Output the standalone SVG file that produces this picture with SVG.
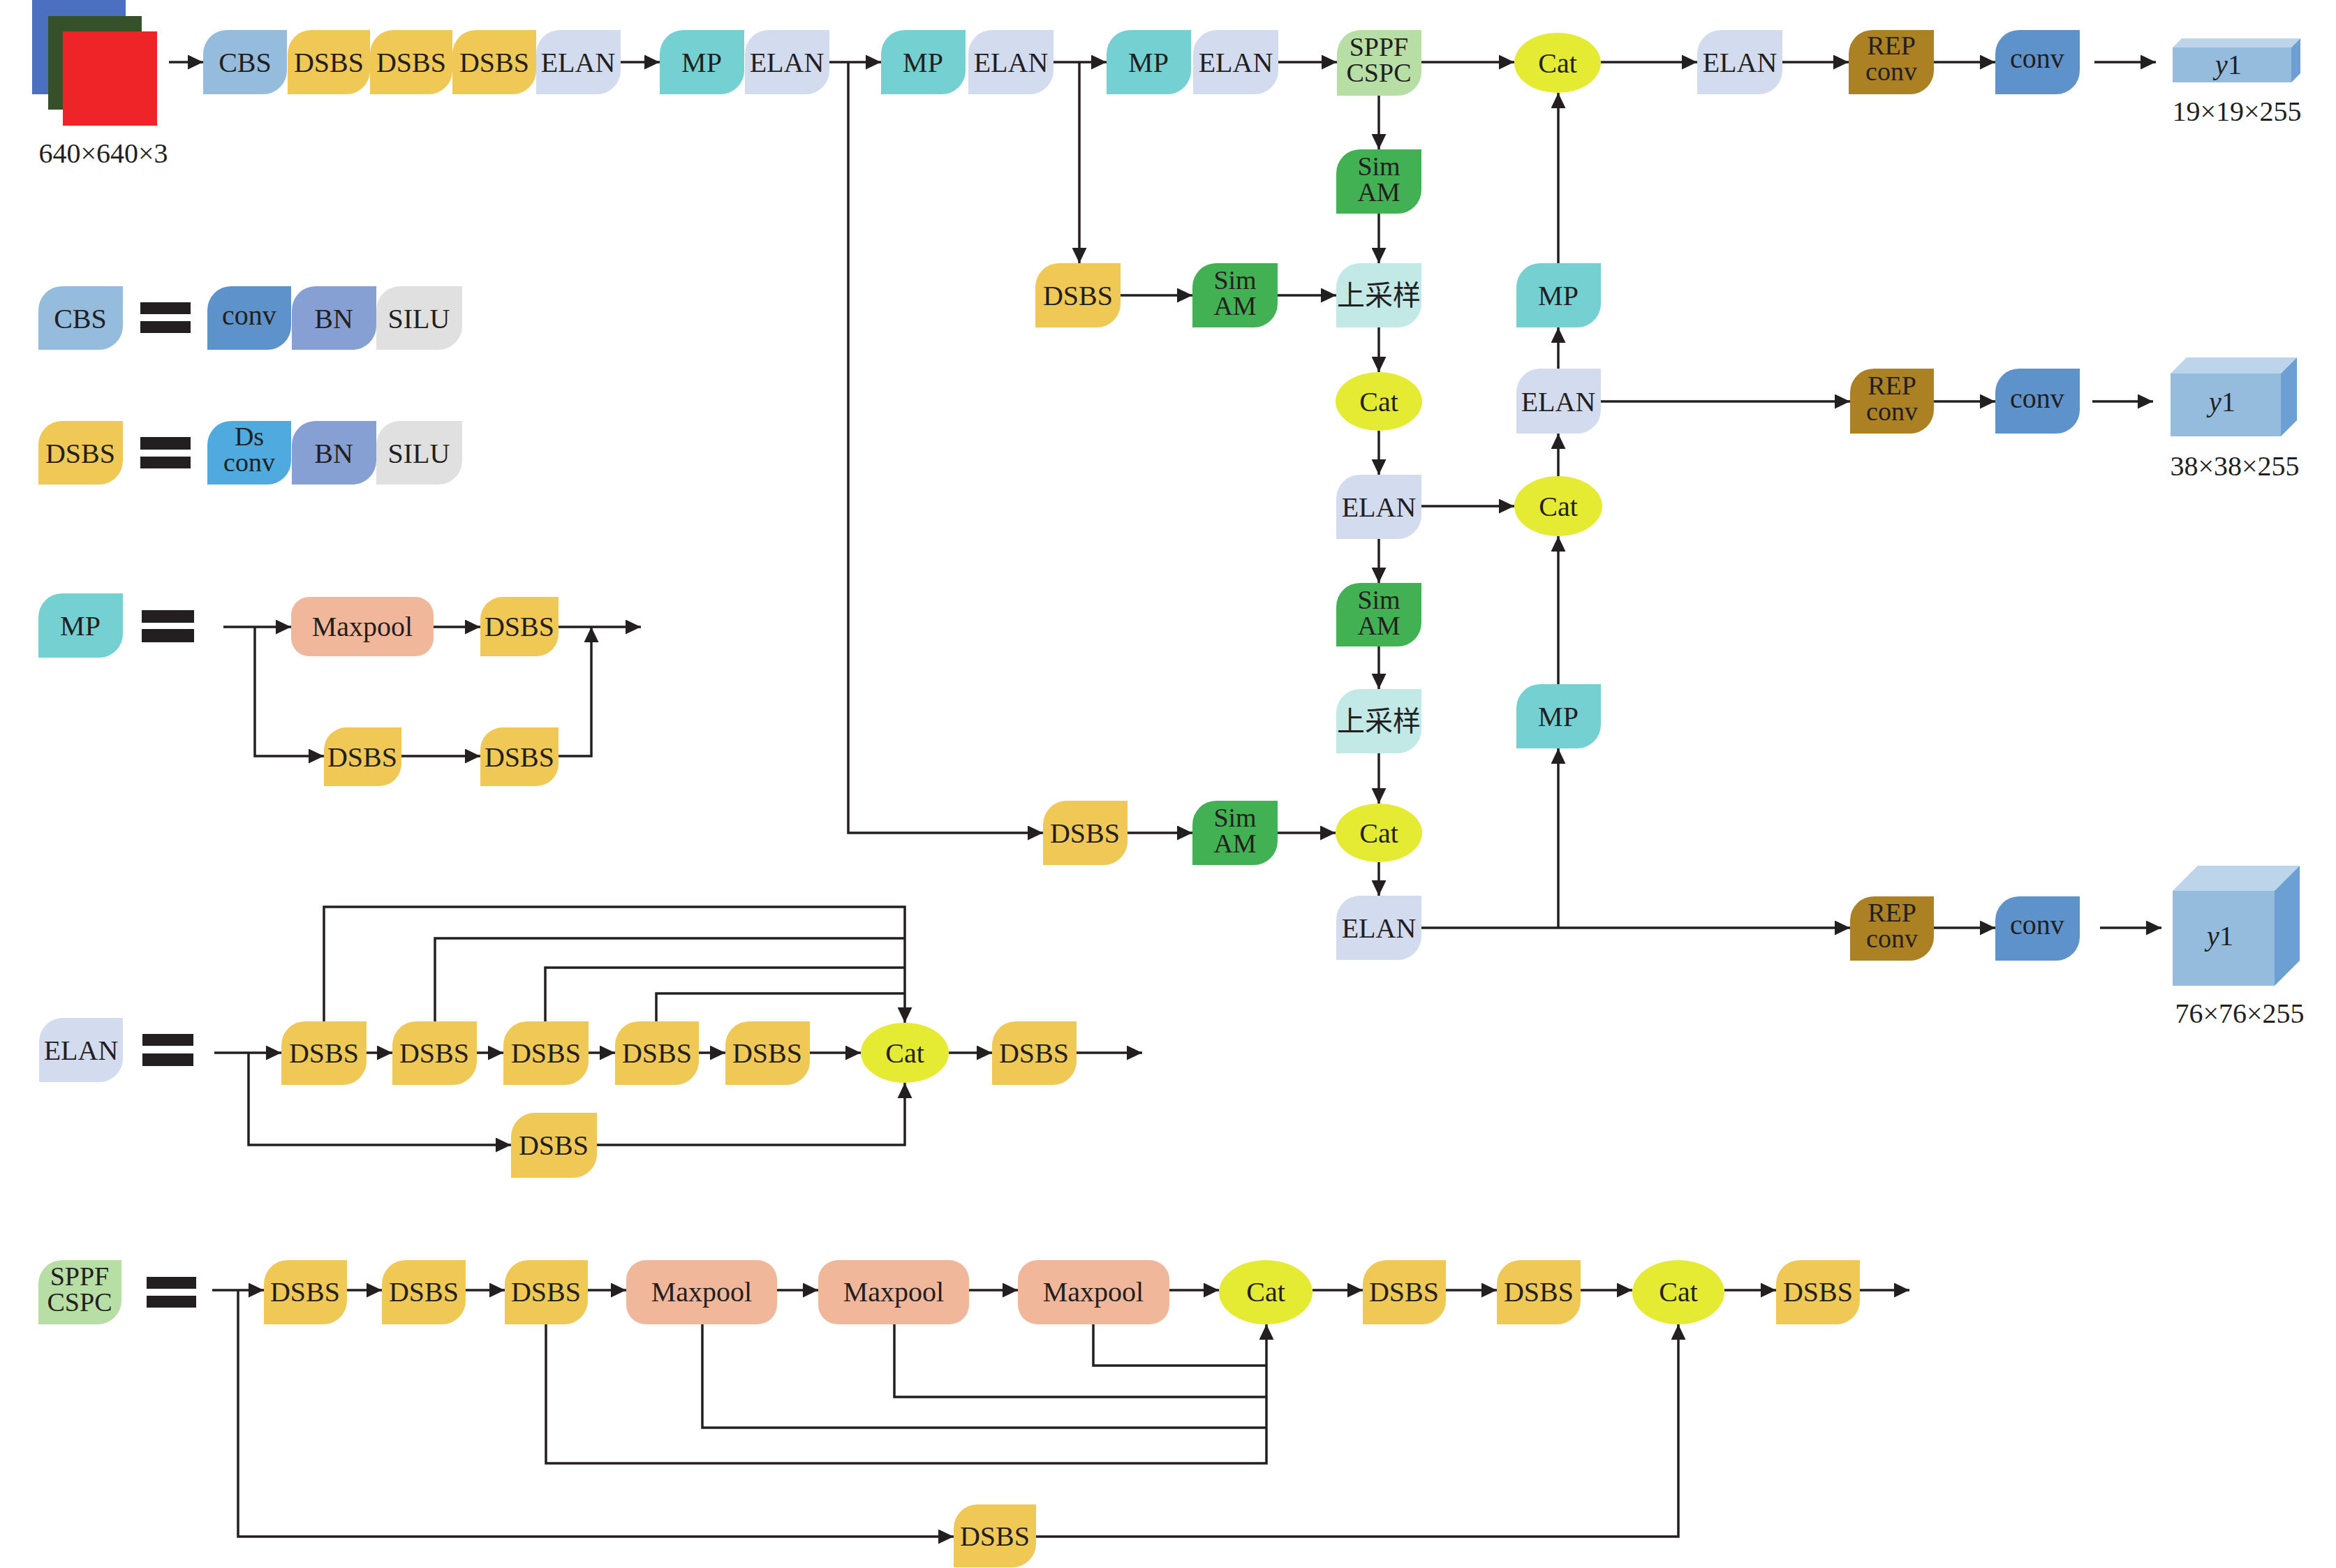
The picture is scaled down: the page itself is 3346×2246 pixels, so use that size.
<svg xmlns="http://www.w3.org/2000/svg" width="3346" height="2246" viewBox="0 0 3346 2246">
<style>
.t{font-family:"Liberation Serif","Times New Roman",serif;font-size:40px;fill:#231F20;text-anchor:middle}
.t2{font-family:"Liberation Serif","Times New Roman",serif;font-size:38px;fill:#231F20;text-anchor:middle}
.cjk{font-family:"Liberation Serif","Noto Sans CJK SC",sans-serif;font-size:40px;fill:#231F20;text-anchor:middle}
.c{fill:none;stroke:#231F20;stroke-width:3.5}
.ca{fill:none;stroke:#231F20;stroke-width:3.5;marker-end:url(#ah)}
.cbs{fill:#95BBDD}.dsbs{fill:#F0C856}.elan{fill:#D3DBEE}.mp{fill:#74D0D1}.sppf{fill:#B7DEA5}
.cat{fill:#E5EB33}.sim{fill:#41B153}.up{fill:#C3E9E7}.rep{fill:#AB8124}.conv{fill:#5E92CA}
.bn{fill:#86A0D4}.silu{fill:#E0E0E0}.ds{fill:#4EAADF}.maxp{fill:#F0B79B}.bar{fill:#231F20}
.cf{fill:#95BBDD}.ct{fill:#BDD5EA}.cr{fill:#6C9FD2}
</style>
<defs>
<marker id="ah" viewBox="0 0 22 21" refX="22" refY="10.5" markerWidth="22" markerHeight="21" markerUnits="userSpaceOnUse" orient="auto"><path d="M0,0 L22,10.5 L0,21 Z" fill="#231F20"/></marker>
</defs>
<rect width="3346" height="2246" fill="#FFFFFF"/>

<g id="connectors">
<path class="ca" d="M242,89 H291"/>
<path class="ca" d="M889,89 H945"/>
<path class="ca" d="M1188,89 H1262"/>
<path class="ca" d="M1509,89 H1585"/>
<path class="ca" d="M1831,89 H1915"/>
<path class="ca" d="M2036,89 H2169"/>
<path class="ca" d="M2293,89 H2431"/>
<path class="ca" d="M2553,89 H2648"/>
<path class="ca" d="M2770,89 H2858"/>
<path class="ca" d="M3000,89 H3088"/>
<path class="ca" d="M1215,89 V1193 H1494"/>
<path class="ca" d="M1546,89 V377"/>
<path class="ca" d="M1975,137 V214"/>
<path class="ca" d="M1975,306 V377"/>
<path class="ca" d="M1605,423 H1708"/>
<path class="ca" d="M1830,423 H1914"/>
<path class="ca" d="M1975,469 V533"/>
<path class="ca" d="M1975,617 V680"/>
<path class="ca" d="M2036,725 H2169"/>
<path class="ca" d="M1975,772 V835"/>
<path class="ca" d="M1975,926 V987"/>
<path class="ca" d="M1975,1079 V1151"/>
<path class="ca" d="M1975,1235 V1283"/>
<path class="ca" d="M1615,1193 H1708"/>
<path class="ca" d="M1830,1193 H1913"/>
<path class="ca" d="M2036,1329 H2650"/>
<path class="ca" d="M2232,1329 V1072"/>
<path class="ca" d="M2232,980 V768"/>
<path class="ca" d="M2232,683 V621"/>
<path class="ca" d="M2232,528 V469"/>
<path class="ca" d="M2232,377 V133"/>
<path class="ca" d="M2293,575 H2650"/>
<path class="ca" d="M2770,575 H2858"/>
<path class="ca" d="M2997,575 H3084"/>
<path class="ca" d="M2770,1329 H2858"/>
<path class="ca" d="M3008,1329 H3096"/>

<path class="ca" d="M320,898 H417"/>
<path class="ca" d="M621,898 H688"/>
<path class="ca" d="M800,898 H918"/>
<path class="ca" d="M365,898 V1083 H464"/>
<path class="ca" d="M575,1083 H688"/>
<path class="ca" d="M800,1083 H847 V898"/>

<path class="ca" d="M307,1508 H403"/>
<path class="ca" d="M525,1508 H562"/>
<path class="ca" d="M683,1508 H721"/>
<path class="ca" d="M843,1508 H881"/>
<path class="ca" d="M1001,1508 H1039"/>
<path class="ca" d="M1160,1508 H1233"/>
<path class="ca" d="M1359,1508 H1421"/>
<path class="ca" d="M1542,1508 H1636"/>
<path class="ca" d="M356,1508 V1640 H732"/>
<path class="ca" d="M855,1640 H1296 V1551"/>
<path class="ca" d="M464,1463 V1299 H1296 V1465"/>
<path class="c" d="M623,1463 V1344 H1296"/>
<path class="c" d="M781,1463 V1386 H1296"/>
<path class="c" d="M940,1463 V1423 H1296"/>

<path class="ca" d="M304,1848 H378"/>
<path class="ca" d="M497,1848 H547"/>
<path class="ca" d="M667,1848 H723"/>
<path class="ca" d="M842,1848 H897"/>
<path class="ca" d="M1113,1848 H1172"/>
<path class="ca" d="M1388,1848 H1458"/>
<path class="ca" d="M1675,1848 H1746"/>
<path class="ca" d="M1880,1848 H1952"/>
<path class="ca" d="M2071,1848 H2144"/>
<path class="ca" d="M2264,1848 H2338"/>
<path class="ca" d="M2470,1848 H2544"/>
<path class="ca" d="M2664,1848 H2735"/>
<path class="ca" d="M341,1848 V2201 H1366"/>
<path class="ca" d="M1484,2201 H2404 V1897"/>
<path class="ca" d="M782,1897 V2096 H1814 V1897"/>
<path class="c" d="M1006,1897 V2045 H1814"/>
<path class="c" d="M1281,1897 V2001 H1814"/>
<path class="c" d="M1566,1897 V1956 H1814"/>
</g>

<g id="input">
<rect x="46" y="0" width="134" height="135" fill="#4B70C0"/>
<rect x="69" y="23" width="134" height="134" fill="#36512A"/>
<rect x="90" y="45" width="135" height="135" fill="#EE2428"/>
<text class="t" x="148" y="233">640×640×3</text>
</g>

<g id="cbs1"><path class="cbs" d="M291,77 A34,34 0 0 1 325,43 H411 V101 A34,34 0 0 1 377,135 H291 Z"/><text class="t" x="351" y="103">CBS</text></g>
<g id="dsbs1"><path class="dsbs" d="M412,77 A34,34 0 0 1 446,43 H530 V101 A34,34 0 0 1 496,135 H412 Z"/><text class="t" x="471" y="103">DSBS</text></g>
<g id="dsbs2"><path class="dsbs" d="M530,77 A34,34 0 0 1 564,43 H648 V101 A34,34 0 0 1 614,135 H530 Z"/><text class="t" x="589" y="103">DSBS</text></g>
<g id="dsbs3"><path class="dsbs" d="M648,77 A34,34 0 0 1 682,43 H768 V101 A34,34 0 0 1 734,135 H648 Z"/><text class="t" x="708" y="103">DSBS</text></g>
<g id="elan1"><path class="elan" d="M768,77 A34,34 0 0 1 802,43 H889 V101 A34,34 0 0 1 855,135 H768 Z"/><text class="t" x="828" y="103">ELAN</text></g>
<g id="mp1"><path class="mp" d="M945,77 A34,34 0 0 1 979,43 H1066 V101 A34,34 0 0 1 1032,135 H945 Z"/><text class="t" x="1005" y="103">MP</text></g>
<g id="elan2"><path class="elan" d="M1067,77 A34,34 0 0 1 1101,43 H1188 V101 A34,34 0 0 1 1154,135 H1067 Z"/><text class="t" x="1127" y="103">ELAN</text></g>
<g id="mp2"><path class="mp" d="M1262,77 A34,34 0 0 1 1296,43 H1383 V101 A34,34 0 0 1 1349,135 H1262 Z"/><text class="t" x="1322" y="103">MP</text></g>
<g id="elan3"><path class="elan" d="M1387,77 A34,34 0 0 1 1421,43 H1509 V101 A34,34 0 0 1 1475,135 H1387 Z"/><text class="t" x="1448" y="103">ELAN</text></g>
<g id="mp3"><path class="mp" d="M1585,77 A34,34 0 0 1 1619,43 H1706 V101 A34,34 0 0 1 1672,135 H1585 Z"/><text class="t" x="1645" y="103">MP</text></g>
<g id="elan4"><path class="elan" d="M1709,77 A34,34 0 0 1 1743,43 H1831 V101 A34,34 0 0 1 1797,135 H1709 Z"/><text class="t" x="1770" y="103">ELAN</text></g>
<g id="sppf"><path class="sppf" d="M1915,77 A34,34 0 0 1 1949,43 H2036 V103 A34,34 0 0 1 2002,137 H1915 Z"/><text class="t2" x="1975" y="80">SPPF</text><text class="t2" x="1975" y="117">CSPC</text></g>
<g id="cat1"><ellipse class="cat" cx="2231" cy="90" rx="62" ry="43"/><text class="t" x="2231" y="104">Cat</text></g>
<g id="elan5"><path class="elan" d="M2431,77 A34,34 0 0 1 2465,43 H2553 V101 A34,34 0 0 1 2519,135 H2431 Z"/><text class="t" x="2492" y="103">ELAN</text></g>
<g id="rep1"><path class="rep" d="M2648,77 A34,34 0 0 1 2682,43 H2770 V101 A34,34 0 0 1 2736,135 H2648 Z"/><text class="t2" x="2709" y="78">REP</text><text class="t2" x="2709" y="115">conv</text></g>
<g id="conv1"><path class="conv" d="M2858,77 A34,34 0 0 1 2892,43 H2979 V101 A34,34 0 0 1 2945,135 H2858 Z"/><text class="t" x="2918" y="97">conv</text></g>
<g id="y1a">
<polygon class="ct" points="3112,68 3125,55 3295,55 3282,68"/>
<polygon class="cr" points="3282,68 3295,55 3295,105 3282,118"/>
<rect class="cf" x="3112" y="68" width="170" height="50"/>
<text class="t" x="3192" y="106"><tspan font-style="italic">y</tspan>1</text>
<text class="t" x="3204" y="173">19×19×255</text>
</g>

<g id="simam1"><path class="sim" d="M1914,248 A34,34 0 0 1 1948,214 H2036 V272 A34,34 0 0 1 2002,306 H1914 Z"/><text class="t2" x="1975" y="251">Sim</text><text class="t2" x="1975" y="288">AM</text></g>
<g id="dsbs_mid"><path class="dsbs" d="M1483,411 A34,34 0 0 1 1517,377 H1605 V435 A34,34 0 0 1 1571,469 H1483 Z"/><text class="t" x="1544" y="437">DSBS</text></g>
<g id="simam2"><path class="sim" d="M1708,411 A34,34 0 0 1 1742,377 H1830 V435 A34,34 0 0 1 1796,469 H1708 Z"/><text class="t2" x="1769" y="414">Sim</text><text class="t2" x="1769" y="451">AM</text></g>
<g id="up1"><path class="up" d="M1914,411 A34,34 0 0 1 1948,377 H2036 V435 A34,34 0 0 1 2002,469 H1914 Z"/><text class="cjk" x="1975" y="437">上采样</text></g>
<g id="cat2"><ellipse class="cat" cx="1975" cy="575" rx="62" ry="42"/><text class="t" x="1975" y="589">Cat</text></g>
<g id="elan6"><path class="elan" d="M1914,714 A34,34 0 0 1 1948,680 H2036 V738 A34,34 0 0 1 2002,772 H1914 Z"/><text class="t" x="1975" y="740">ELAN</text></g>
<g id="cat3"><ellipse class="cat" cx="2232" cy="725" rx="63" ry="43"/><text class="t" x="2232" y="739">Cat</text></g>
<g id="elan7"><path class="elan" d="M2172,562 A34,34 0 0 1 2206,528 H2293 V587 A34,34 0 0 1 2259,621 H2172 Z"/><text class="t" x="2232" y="589">ELAN</text></g>
<g id="mp4"><path class="mp" d="M2172,411 A34,34 0 0 1 2206,377 H2293 V435 A34,34 0 0 1 2259,469 H2172 Z"/><text class="t" x="2232" y="437">MP</text></g>
<g id="simam3"><path class="sim" d="M1914,869 A34,34 0 0 1 1948,835 H2036 V892 A34,34 0 0 1 2002,926 H1914 Z"/><text class="t2" x="1975" y="872">Sim</text><text class="t2" x="1975" y="909">AM</text></g>
<g id="up2"><path class="up" d="M1914,1021 A34,34 0 0 1 1948,987 H2036 V1045 A34,34 0 0 1 2002,1079 H1914 Z"/><text class="cjk" x="1975" y="1047">上采样</text></g>
<g id="cat4"><ellipse class="cat" cx="1975" cy="1193" rx="62" ry="42"/><text class="t" x="1975" y="1207">Cat</text></g>
<g id="dsbs_low"><path class="dsbs" d="M1494,1181 A34,34 0 0 1 1528,1147 H1615 V1205 A34,34 0 0 1 1581,1239 H1494 Z"/><text class="t" x="1554" y="1207">DSBS</text></g>
<g id="simam4"><path class="sim" d="M1708,1181 A34,34 0 0 1 1742,1147 H1830 V1205 A34,34 0 0 1 1796,1239 H1708 Z"/><text class="t2" x="1769" y="1184">Sim</text><text class="t2" x="1769" y="1221">AM</text></g>
<g id="elan8"><path class="elan" d="M1914,1317 A34,34 0 0 1 1948,1283 H2036 V1341 A34,34 0 0 1 2002,1375 H1914 Z"/><text class="t" x="1975" y="1343">ELAN</text></g>
<g id="mp5"><path class="mp" d="M2172,1014 A34,34 0 0 1 2206,980 H2293 V1038 A34,34 0 0 1 2259,1072 H2172 Z"/><text class="t" x="2232" y="1040">MP</text></g>

<g id="rep2"><path class="rep" d="M2650,562 A34,34 0 0 1 2684,528 H2770 V587 A34,34 0 0 1 2736,621 H2650 Z"/><text class="t2" x="2710" y="565">REP</text><text class="t2" x="2710" y="602">conv</text></g>
<g id="conv2"><path class="conv" d="M2858,562 A34,34 0 0 1 2892,528 H2979 V587 A34,34 0 0 1 2945,621 H2858 Z"/><text class="t" x="2918" y="584">conv</text></g>
<g id="y1b">
<polygon class="ct" points="3109,535 3132,512 3290,512 3267,535"/>
<polygon class="cr" points="3267,535 3290,512 3290,602 3267,625"/>
<rect class="cf" x="3109" y="535" width="158" height="90"/>
<text class="t" x="3183" y="589"><tspan font-style="italic">y</tspan>1</text>
<text class="t" x="3201" y="681">38×38×255</text>
</g>
<g id="rep3"><path class="rep" d="M2650,1318 A34,34 0 0 1 2684,1284 H2770 V1342 A34,34 0 0 1 2736,1376 H2650 Z"/><text class="t2" x="2710" y="1320">REP</text><text class="t2" x="2710" y="1357">conv</text></g>
<g id="conv3"><path class="conv" d="M2858,1318 A34,34 0 0 1 2892,1284 H2979 V1342 A34,34 0 0 1 2945,1376 H2858 Z"/><text class="t" x="2918" y="1338">conv</text></g>
<g id="y1c">
<polygon class="ct" points="3112,1276 3148,1240 3294,1240 3258,1276"/>
<polygon class="cr" points="3258,1276 3294,1240 3294,1376 3258,1412"/>
<rect class="cf" x="3112" y="1276" width="146" height="136"/>
<text class="t" x="3180" y="1354"><tspan font-style="italic">y</tspan>1</text>
<text class="t" x="3208" y="1465">76×76×255</text>
</g>

<g id="legend_cbs">
<path class="cbs" d="M55,444 A34,34 0 0 1 89,410 H176 V467 A34,34 0 0 1 142,501 H55 Z"/><text class="t" x="115" y="470">CBS</text>
<rect class="bar" x="201" y="433" width="72" height="17"/><rect class="bar" x="201" y="460" width="72" height="17"/>
<path class="conv" d="M297,444 A34,34 0 0 1 331,410 H417 V467 A34,34 0 0 1 383,501 H297 Z"/><text class="t" x="357" y="465">conv</text>
<path class="bn" d="M418,444 A34,34 0 0 1 452,410 H539 V467 A34,34 0 0 1 505,501 H418 Z"/><text class="t" x="478" y="470">BN</text>
<path class="silu" d="M539,444 A34,34 0 0 1 573,410 H662 V467 A34,34 0 0 1 628,501 H539 Z"/><text class="t" x="600" y="470">SILU</text>
</g>
<g id="legend_dsbs">
<path class="dsbs" d="M55,637 A34,34 0 0 1 89,603 H176 V660 A34,34 0 0 1 142,694 H55 Z"/><text class="t" x="115" y="663">DSBS</text>
<rect class="bar" x="201" y="626" width="72" height="18"/><rect class="bar" x="201" y="654" width="72" height="17"/>
<path class="ds" d="M297,637 A34,34 0 0 1 331,603 H417 V660 A34,34 0 0 1 383,694 H297 Z"/><text class="t2" x="357" y="638">Ds</text><text class="t2" x="357" y="675">conv</text>
<path class="bn" d="M418,637 A34,34 0 0 1 452,603 H539 V660 A34,34 0 0 1 505,694 H418 Z"/><text class="t" x="478" y="663">BN</text>
<path class="silu" d="M539,637 A34,34 0 0 1 573,603 H662 V660 A34,34 0 0 1 628,694 H539 Z"/><text class="t" x="600" y="663">SILU</text>
</g>
<g id="legend_mp">
<path class="mp" d="M55,884 A34,34 0 0 1 89,850 H176 V908 A34,34 0 0 1 142,942 H55 Z"/><text class="t" x="115" y="910">MP</text>
<rect class="bar" x="203" y="874" width="75" height="18"/><rect class="bar" x="203" y="901" width="75" height="19"/>
</g>
<g id="mp_maxpool"><rect class="maxp" x="417" y="855" width="204" height="85" rx="26"/><text class="t" x="519" y="911">Maxpool</text></g>
<g id="mp_dsbs1"><path class="dsbs" d="M688,887 A32,32 0 0 1 720,855 H800 V908 A32,32 0 0 1 768,940 H688 Z"/><text class="t" x="744" y="911">DSBS</text></g>
<g id="mp_dsbs2"><path class="dsbs" d="M464,1074 A32,32 0 0 1 496,1042 H575 V1094 A32,32 0 0 1 543,1126 H464 Z"/><text class="t" x="519" y="1098">DSBS</text></g>
<g id="mp_dsbs3"><path class="dsbs" d="M688,1074 A32,32 0 0 1 720,1042 H800 V1094 A32,32 0 0 1 768,1126 H688 Z"/><text class="t" x="744" y="1098">DSBS</text></g>

<g id="legend_elan">
<path class="elan" d="M56,1492 A34,34 0 0 1 90,1458 H176 V1516 A34,34 0 0 1 142,1550 H56 Z"/><text class="t" x="116" y="1518">ELAN</text>
<rect class="bar" x="204" y="1481" width="73" height="17"/><rect class="bar" x="204" y="1509" width="73" height="18"/>
</g>
<g id="el_dsbs1"><path class="dsbs" d="M403,1497 A34,34 0 0 1 437,1463 H525 V1520 A34,34 0 0 1 491,1554 H403 Z"/><text class="t" x="464" y="1522">DSBS</text></g>
<g id="el_dsbs2"><path class="dsbs" d="M562,1497 A34,34 0 0 1 596,1463 H683 V1520 A34,34 0 0 1 649,1554 H562 Z"/><text class="t" x="622" y="1522">DSBS</text></g>
<g id="el_dsbs3"><path class="dsbs" d="M721,1497 A34,34 0 0 1 755,1463 H843 V1520 A34,34 0 0 1 809,1554 H721 Z"/><text class="t" x="782" y="1522">DSBS</text></g>
<g id="el_dsbs4"><path class="dsbs" d="M881,1497 A34,34 0 0 1 915,1463 H1001 V1520 A34,34 0 0 1 967,1554 H881 Z"/><text class="t" x="941" y="1522">DSBS</text></g>
<g id="el_dsbs5"><path class="dsbs" d="M1039,1497 A34,34 0 0 1 1073,1463 H1160 V1520 A34,34 0 0 1 1126,1554 H1039 Z"/><text class="t" x="1099" y="1522">DSBS</text></g>
<g id="el_cat"><ellipse class="cat" cx="1296" cy="1508" rx="63" ry="43"/><text class="t" x="1296" y="1522">Cat</text></g>
<g id="el_dsbs6"><path class="dsbs" d="M1421,1497 A34,34 0 0 1 1455,1463 H1542 V1520 A34,34 0 0 1 1508,1554 H1421 Z"/><text class="t" x="1481" y="1522">DSBS</text></g>
<g id="el_dsbs7"><path class="dsbs" d="M732,1628 A34,34 0 0 1 766,1594 H855 V1653 A34,34 0 0 1 821,1687 H732 Z"/><text class="t" x="793" y="1654">DSBS</text></g>

<g id="legend_sppf">
<path class="sppf" d="M55,1839 A34,34 0 0 1 89,1805 H174 V1863 A34,34 0 0 1 140,1897 H55 Z"/><text class="t2" x="114" y="1841">SPPF</text><text class="t2" x="114" y="1878">CSPC</text>
<rect class="bar" x="210" y="1829" width="71" height="17"/><rect class="bar" x="210" y="1856" width="71" height="17"/>
</g>
<g id="sp_dsbs1"><path class="dsbs" d="M378,1839 A34,34 0 0 1 412,1805 H497 V1863 A34,34 0 0 1 463,1897 H378 Z"/><text class="t" x="437" y="1864">DSBS</text></g>
<g id="sp_dsbs2"><path class="dsbs" d="M547,1839 A34,34 0 0 1 581,1805 H667 V1863 A34,34 0 0 1 633,1897 H547 Z"/><text class="t" x="607" y="1864">DSBS</text></g>
<g id="sp_dsbs3"><path class="dsbs" d="M723,1839 A34,34 0 0 1 757,1805 H842 V1863 A34,34 0 0 1 808,1897 H723 Z"/><text class="t" x="782" y="1864">DSBS</text></g>
<g id="sp_max1"><rect class="maxp" x="897" y="1805" width="216" height="92" rx="28"/><text class="t" x="1005" y="1864">Maxpool</text></g>
<g id="sp_max2"><rect class="maxp" x="1172" y="1805" width="216" height="92" rx="28"/><text class="t" x="1280" y="1864">Maxpool</text></g>
<g id="sp_max3"><rect class="maxp" x="1458" y="1805" width="217" height="92" rx="28"/><text class="t" x="1566" y="1864">Maxpool</text></g>
<g id="sp_cat1"><ellipse class="cat" cx="1813" cy="1851" rx="67" ry="46"/><text class="t" x="1813" y="1864">Cat</text></g>
<g id="sp_dsbs4"><path class="dsbs" d="M1952,1839 A34,34 0 0 1 1986,1805 H2071 V1863 A34,34 0 0 1 2037,1897 H1952 Z"/><text class="t" x="2011" y="1864">DSBS</text></g>
<g id="sp_dsbs5"><path class="dsbs" d="M2144,1839 A34,34 0 0 1 2178,1805 H2264 V1863 A34,34 0 0 1 2230,1897 H2144 Z"/><text class="t" x="2204" y="1864">DSBS</text></g>
<g id="sp_cat2"><ellipse class="cat" cx="2404" cy="1851" rx="66" ry="46"/><text class="t" x="2404" y="1864">Cat</text></g>
<g id="sp_dsbs6"><path class="dsbs" d="M2544,1839 A34,34 0 0 1 2578,1805 H2664 V1863 A34,34 0 0 1 2630,1897 H2544 Z"/><text class="t" x="2604" y="1864">DSBS</text></g>
<g id="sp_dsbs7"><path class="dsbs" d="M1366,2189 A34,34 0 0 1 1400,2155 H1484 V2211 A34,34 0 0 1 1450,2245 H1366 Z"/><text class="t" x="1425" y="2214">DSBS</text></g>
</svg>
